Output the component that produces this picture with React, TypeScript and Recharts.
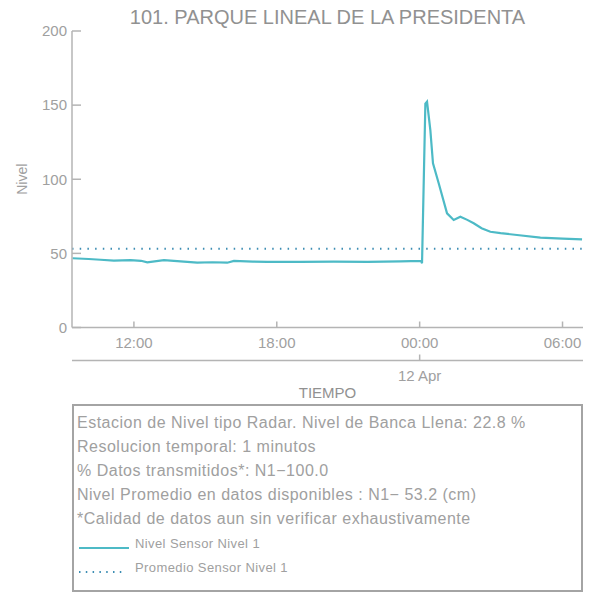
import {
  Legend,
  Line,
  LineChart,
  ReferenceLine,
  XAxis,
  YAxis,
} from 'recharts'

// hours since 11 Apr 00:00
const TIMES = [
  9.42, 10.1, 10.6, 11.16, 11.86, 12.3, 12.56, 13.26, 13.96, 14.66, 15.3,
  15.92, 16.2, 17.0, 17.6, 19.0, 20.4, 21.8, 23.19, 24.06, 24.1, 24.24,
  24.31, 24.45, 24.56, 24.8, 25.15, 25.43, 25.71, 26.0, 26.27, 26.6, 26.97,
  27.4, 28.09, 29.07, 30.0, 30.82,
]
const LEVELS = [
  46.7, 46.2, 45.7, 45.1, 45.5, 45.0, 44.0, 45.5, 44.6, 43.7, 44.0, 43.7,
  44.9, 44.5, 44.2, 44.2, 44.4, 44.2, 44.6, 45.0, 43.3, 151.0, 152.3, 133.0,
  110.8, 97.3, 77.0, 72.5, 74.7, 72.6, 70.3, 67.0, 64.6, 63.6, 62.4, 60.6,
  60.0, 59.5,
]
const AVERAGE = 53.2
const Y_TICKS = [0, 50, 100, 150, 200]
const HOUR_TICKS = [12, 18, 24, 30]
const DATE_TICKS = [24]
const DATE_LABELS: Record<number, string> = { 24: '12 Apr' }
const X_DOMAIN = [9.4, 30.86]

const TITLE = '101. PARQUE LINEAL DE LA PRESIDENTA'
const INFO_LINES = [
  'Estacion de Nivel tipo Radar. Nivel de Banca Llena: 22.8 %',
  'Resolucion temporal: 1 minutos',
  '% Datos transmitidos*: N1\u2212100.0',
  'Nivel Promedio en datos disponibles : N1\u2212 53.2 (cm)',
  '*Calidad de datos aun sin verificar exhaustivamente',
]
const LEGEND_ITEMS = [
  { name: 'Nivel Sensor Nivel 1', dotted: false },
  { name: 'Promedio Sensor Nivel 1', dotted: true },
]

const data = TIMES.map((t, i) => ({ t, nivel: LEVELS[i] }))

const FONT = '"Liberation Sans", Arial, sans-serif'
const GRAY = '#a0a0a0'
const AXIS = '#b4b4b4'
const TEAL = '#4dbac6'
const BLUE = '#3c8db3'

const hourLabel = (h: number) => `${String(h % 24).padStart(2, '0')}:00`

function YTick(props: any) {
  const { x, y, payload } = props
  return (
    <g>
      <text x={x - 5} y={y} dy="0.35em" textAnchor="end" fill={GRAY} fontSize={15} fontFamily={FONT}>
        {payload.value}
      </text>
      <line x1={x} y1={y} x2={x + 9} y2={y} stroke={AXIS} strokeWidth={1.5} />
    </g>
  )
}

function makeXTick(fmt: (v: number) => string) {
  return function XTick(props: any) {
    const { x, y, payload } = props
    return (
      <g>
        <line x1={x} y1={y} x2={x} y2={y - 6} stroke={AXIS} strokeWidth={1.5} />
        <text x={x} y={y + 15.5} dy="0.35em" textAnchor="middle" fill={GRAY} fontSize={15} fontFamily={FONT}>
          {fmt(payload.value)}
        </text>
      </g>
    )
  }
}

function InfoBox() {
  return (
    <div
      style={{
        width: 511,
        height: 188,
        border: '2px solid #a4a4a4',
        boxSizing: 'border-box',
        padding: '5px 0 0 3px',
        color: GRAY,
        fontFamily: FONT,
      }}
    >
      {INFO_LINES.map((line) => (
        <div key={line} style={{ fontSize: 16, letterSpacing: 0.5, lineHeight: '24px', whiteSpace: 'nowrap' }}>
          {line}
        </div>
      ))}
      {LEGEND_ITEMS.map((item) => (
        <div
          key={item.name}
          style={{ height: 24, display: 'flex', alignItems: 'center', fontSize: 13, letterSpacing: 0.4 }}
        >
          <svg width={58} height={24}>
            <line
              x1={2}
              y1={17}
              x2={item.dotted ? 49 : 52}
              y2={17}
              stroke={item.dotted ? BLUE : TEAL}
              strokeWidth={2}
              strokeDasharray={item.dotted ? '1.5 5.3' : undefined}
            />
          </svg>
          <span>{item.name}</span>
        </div>
      ))}
    </div>
  )
}

export default function App() {
  return (
    <div style={{ position: 'absolute', left: 0, top: 0, width: 594, height: 596, background: '#fff' }}>
      <div
        style={{
          position: 'absolute',
          left: 72,
          width: 511,
          top: 5,
          textAlign: 'center',
          fontFamily: FONT,
          fontSize: 20,
          lineHeight: '24px',
          color: '#919191',
          whiteSpace: 'nowrap',
        }}
      >
        {TITLE}
      </div>
      <LineChart
        width={594}
        height={596}
        data={data}
        margin={{ top: 31, right: 11, left: 0, bottom: 196 }}
      >
        <YAxis
          width={72}
          domain={[0, 200]}
          ticks={Y_TICKS}
          interval={0}
          tickSize={0}
          tickMargin={0}
          tickLine={false}
          axisLine={{ stroke: AXIS, strokeWidth: 1.5 }}
          tick={<YTick />}
          label={{
            content: (p: any) => {
              const vb = p.viewBox
              const cx = 22
              const cy = vb.y + vb.height / 2
              return (
                <text
                  x={cx}
                  y={cy}
                  transform={`rotate(-90 ${cx} ${cy})`}
                  textAnchor="middle"
                  dy="0.35em"
                  fill={GRAY}
                  fontSize={14}
                  fontFamily={FONT}
                >
                  Nivel
                </text>
              )
            },
          }}
        />
        <XAxis
          dataKey="t"
          type="number"
          domain={X_DOMAIN}
          allowDataOverflow
          ticks={HOUR_TICKS}
          interval={0}
          height={33}
          tickSize={0}
          tickMargin={0}
          tickLine={false}
          axisLine={{ stroke: AXIS, strokeWidth: 1.5 }}
          tick={makeXTick(hourLabel)}
        />
        <XAxis
          xAxisId="date"
          dataKey="t"
          type="number"
          domain={X_DOMAIN}
          allowDataOverflow
          ticks={DATE_TICKS}
          interval={0}
          height={39.5}
          tickSize={0}
          tickMargin={0}
          tickLine={false}
          axisLine={{ stroke: AXIS, strokeWidth: 1.5 }}
          tick={makeXTick((v) => DATE_LABELS[v] ?? '')}
          label={{
            content: (p: any) => {
              const vb = p.viewBox
              return (
                <text
                  x={vb.x + vb.width / 2}
                  y={vb.y + 32}
                  dy="0.35em"
                  textAnchor="middle"
                  fill="#919191"
                  fontSize={15}
                  fontFamily={FONT}
                >
                  TIEMPO
                </text>
              )
            },
          }}
        />
        <ReferenceLine
          y={AVERAGE}
          stroke={BLUE}
          strokeWidth={2}
          strokeDasharray="1.5 6.2"
        />
        <Line
          type="linear"
          dataKey="nivel"
          stroke={TEAL}
          strokeWidth={2.2}
          dot={false}
          activeDot={false}
          isAnimationActive={false}
        />
        <Legend
          layout="vertical"
          align="center"
          verticalAlign="middle"
          wrapperStyle={{ position: 'absolute', left: 72, top: 404, width: 511, height: 188 }}
          content={() => <InfoBox />}
        />
      </LineChart>
    </div>
  )
}
